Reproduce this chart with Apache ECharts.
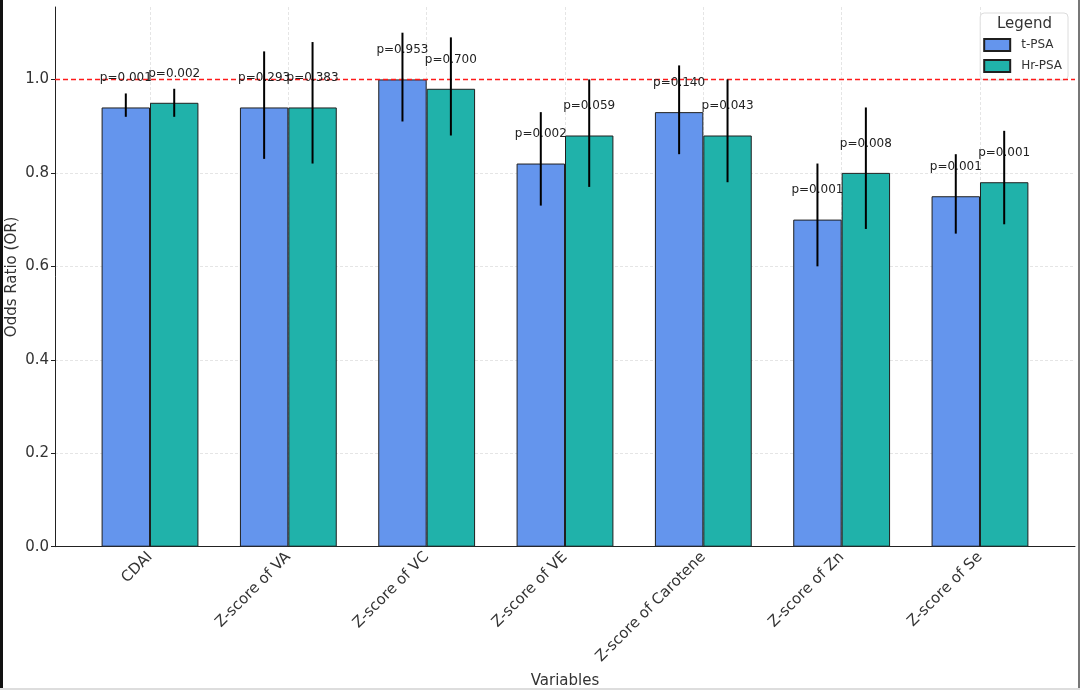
<!DOCTYPE html>
<html>
<head>
<meta charset="utf-8">
<script src="https://cdn.jsdelivr.net/npm/echarts@6/dist/echarts.min.js"></script>
<style>
html, body {margin: 0; padding: 0; background: #fff;}
#chartDiv {width: 1080px; height: 690px;}
</style>
</head>
<body>
<div id="chartDiv"></div>
<script>
// 数据
let categories = ['CDAI', 'Z-score of VA', 'Z-score of VC', 'Z-score of VE', 'Z-score of Carotene', 'Z-score of Zn', 'Z-score of Se'];
let tValues = [0.94, 0.94, 1.00, 0.82, 0.93, 0.70, 0.75];
let tLow = [0.92, 0.83, 0.91, 0.73, 0.84, 0.60, 0.67];
let tHigh = [0.97, 1.06, 1.10, 0.93, 1.03, 0.82, 0.84];
let tP = ['0.001', '0.293', '0.953', '0.002', '0.140', '0.001', '0.001'];
let hrValues = [0.95, 0.94, 0.98, 0.88, 0.88, 0.80, 0.78];
let hrLow = [0.92, 0.82, 0.88, 0.77, 0.78, 0.68, 0.69];
let hrHigh = [0.98, 1.08, 1.09, 1.00, 1.00, 0.94, 0.89];
let hrP = ['0.002', '0.383', '0.700', '0.059', '0.043', '0.008', '0.001'];
let refValue = 1.0;
let yTicks = [0, 0.2, 0.4, 0.6, 0.8, 1.0];

let myChart = echarts.init(document.getElementById('chartDiv'));
let fontFamily = 'DejaVu Sans';
let yMax = 1.155;
let labelLift = 0.05;

function errorData(vals, low, high, p) {
	return vals.map(function (v, i) {
		return [i, low[i], high[i], v, 'p=' + p[i]];
	});
}

// 误差线和p值标注
function makeErrorSeries(name, data, shift) {
	return {
		name: name + '-err',
		type: 'custom',
		xAxisIndex: 0,
		yAxisIndex: 0,
		z: 5,
		silent: true,
		encode: {x: 0, y: 2},
		data: data,
		renderItem(params, api) {
			let band = api.size([1, 0])[0];
			let x = api.coord([api.value(0), 0])[0] + shift * band;
			let yLow = api.coord([api.value(0), api.value(1)])[1];
			let yHigh = api.coord([api.value(0), api.value(2)])[1];
			let yText = api.coord([api.value(0), api.value(3) + labelLift])[1];
			return {
				type: 'group',
				children: [{
					type: 'text',
					style: {
						x: x,
						y: yText,
						text: api.value(4),
						fill: '#222',
						font: '12px ' + fontFamily,
						textAlign: 'center',
						textVerticalAlign: 'bottom'
					}
				}, {
					type: 'line',
					shape: {x1: x, y1: yLow, x2: x, y2: yHigh},
					style: {stroke: '#000', lineWidth: 2}
				}]
			};
		}
	};
}

let gridLine = {color: '#dedede', type: [3, 2], width: 0.8};

let option = {
	backgroundColor: '#fff',
	animation: false,
	textStyle: {fontFamily: fontFamily},
	grid: [
		{left: 80.85, right: 30.85, top: 7, bottom: 143.3, outerBoundsMode: 'none', containLabel: false},
		{left: 55, right: 5, top: 7, bottom: 143.3, outerBoundsMode: 'none', containLabel: false}
	],
	legend: {
		data: ['t-PSA', 'Hr-PSA'],
		orient: 'vertical',
		right: 12,
		top: 13,
		padding: [25, 6, 7, 3],
		itemWidth: 26,
		itemHeight: 12,
		itemGap: 7,
		icon: 'rect',
		borderColor: '#dcdcdc',
		borderWidth: 1,
		borderRadius: 4,
		backgroundColor: 'rgba(255, 255, 255, 0.85)',
		textStyle: {fontSize: 12, color: '#333', padding: [0, 0, 0, 6], fontFamily: fontFamily}
	},
	graphic: [
		{type: 'text', left: 1024 - 27, top: 17, z: 100, style: {text: 'Legend', font: '15px ' + fontFamily, fill: '#333'}},
		{type: 'rect', shape: {x: 0, y: 0, width: 3, height: 690}, style: {fill: '#111'}, z: 100},
		{type: 'rect', shape: {x: 1078, y: 0, width: 2, height: 690}, style: {fill: '#777'}, z: 100},
		{type: 'rect', shape: {x: 0, y: 688, width: 1080, height: 2}, style: {fill: '#ddd'}, z: 100}
	],
	xAxis: [{
		type: 'category',
		gridIndex: 0,
		data: categories,
		axisLine: {show: false},
		axisTick: {show: false},
		axisLabel: {rotate: 45, fontSize: 15, color: '#333', margin: 8, interval: 0},
		splitLine: {show: true, alignWithLabel: true, lineStyle: gridLine}
	}, {
		type: 'value',
		gridIndex: 1,
		min: 0,
		max: 1,
		axisLine: {show: true, lineStyle: {color: '#222', width: 1}},
		axisTick: {show: false},
		axisLabel: {show: false},
		splitLine: {show: false},
		name: 'Variables',
		nameLocation: 'middle',
		nameGap: 127,
		nameMoveOverlap: false,
		nameTextStyle: {fontSize: 15, color: '#333'}
	}],
	yAxis: [{
		type: 'value',
		gridIndex: 0,
		min: 0,
		max: yMax,
		show: false
	}, {
		type: 'value',
		gridIndex: 1,
		min: 0,
		max: yMax,
		interval: 0.2,
		axisLine: {show: true, lineStyle: {color: '#222', width: 1}},
		axisTick: {show: true, length: 4, customValues: yTicks, lineStyle: {color: '#222'}},
		axisLabel: {
			fontSize: 15,
			color: '#333',
			margin: 6,
			customValues: yTicks,
			formatter(v) {
				return v.toFixed(1);
			}
		},
		splitLine: {show: true, showMaxLine: false, showMinLine: false, lineStyle: gridLine},
		name: 'Odds Ratio (OR)',
		nameLocation: 'middle',
		nameGap: 35,
		nameMoveOverlap: false,
		nameTextStyle: {fontSize: 15, color: '#333'}
	}],
	series: [{
		name: 't-PSA',
		type: 'bar',
		xAxisIndex: 0,
		yAxisIndex: 0,
		data: tValues,
		barWidth: '35%',
		barGap: '0%',
		itemStyle: {color: '#6495ED', borderColor: '#1f1f1f', borderWidth: 1}
	}, {
		name: 'Hr-PSA',
		type: 'bar',
		xAxisIndex: 0,
		yAxisIndex: 0,
		data: hrValues,
		barWidth: '35%',
		barGap: '0%',
		itemStyle: {color: '#20B2AA', borderColor: '#1f1f1f', borderWidth: 1}
	},
	makeErrorSeries('t-PSA', errorData(tValues, tLow, tHigh, tP), -0.175),
	makeErrorSeries('Hr-PSA', errorData(hrValues, hrLow, hrHigh, hrP), 0.175),
	{
		name: 'ref',
		type: 'line',
		xAxisIndex: 1,
		yAxisIndex: 1,
		data: [[0, refValue], [1, refValue]],
		symbol: 'none',
		silent: true,
		z: 4,
		lineStyle: {color: '#ff1a1a', type: [5, 3], width: 1.5}
	}]
};
myChart.setOption(option);
</script>
</body>
</html>
